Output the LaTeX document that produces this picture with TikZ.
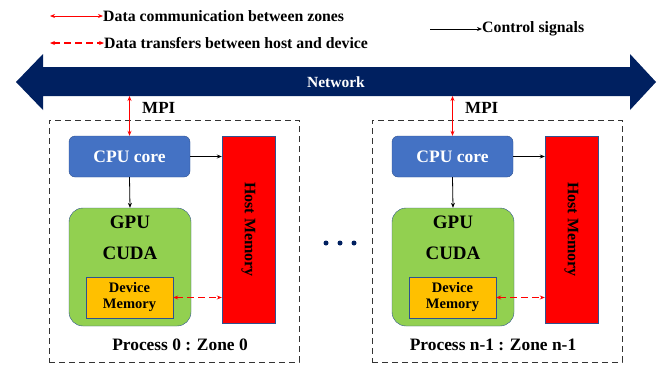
\documentclass[tikz,border=0pt]{standalone}
\usepackage{fontspec}
\setmainfont{Liberation Serif}
\usetikzlibrary{arrows.meta}
\definecolor{navy}{HTML}{002060}
\definecolor{cpublue}{HTML}{4472C4}
\definecolor{gpugreen}{HTML}{92D050}
\definecolor{devorange}{HTML}{FFC000}
\definecolor{edgeblue}{HTML}{2F528F}
\definecolor{hostred}{HTML}{FF0000}
\tikzset{
  fs/.style={font=\bfseries\fontsize{#1}{#1}\selectfont},
  zonebox/.style={draw=black!80, dash pattern=on 6pt off 4pt, line width=0.8pt, minimum width=250pt, minimum height=242pt, inner sep=0pt},
  cpubox/.style={draw=edgeblue, fill=cpublue, rounded corners=6pt, minimum width=121pt, minimum height=41pt, inner sep=0pt, text=white, fs=17.5},
  hostbox/.style={draw=edgeblue, fill=hostred, minimum width=53pt, minimum height=187pt, inner sep=0pt},
  gpubox/.style={draw=edgeblue, fill=gpugreen, rounded corners=14pt, minimum width=122pt, minimum height=118pt, inner sep=0pt},
  devbox/.style={draw=edgeblue, fill=devorange, minimum width=87pt, minimum height=41pt, inner sep=0pt, align=center, font=\bfseries\fontsize{14.5}{16}\selectfont},
  lbl/.style={inner sep=0pt, fs=#1},
  ctrl/.style={-{Stealth[length=5pt,width=4pt]}, line width=0.8pt, black},
  comm/.style={{Stealth[length=5pt,width=4pt]}-{Stealth[length=5pt,width=4pt]}, line width=1pt, hostred},
  xfer/.style={{Stealth[length=5pt,width=4pt]}-{Stealth[length=5pt,width=4pt]}, line width=1.2pt, draw=hostred, dash pattern=on 7pt off 4pt},
  dotn/.style={circle, fill=navy, inner sep=0pt, minimum size=5pt}
}
\begin{document}
\begin{tikzpicture}[x=1pt,y=-1pt]
\useasboundingbox (0,0) rectangle (664,365);
% legend
\coordinate (lg1) at (50,16);
\node[lbl=15.8, anchor=west] (lt1) at (103,16) {Data communication between zones};
\draw[comm] (lg1) -- (lt1.west);
\coordinate (lg2) at (50,43);
\node[lbl=15.8, anchor=west] (lt2) at (104,43) {Data transfers between host and device};
\draw[xfer] (lg2) -- (lt2.west);
\coordinate (lg3) at (430,29);
\node[lbl=15.8, anchor=west] (lt3) at (482,29) {Control signals};
\draw[ctrl] (lg3) -- (lt3.west);
% network
\fill[navy] (16,82) -- (43,54) -- (43,67) -- (630,67) -- (630,54) -- (656,82) -- (630,110) -- (630,96) -- (43,96) -- (43,110) -- cycle;
\node[lbl=15.5, text=white] (net) at (336,82) {Network};
% dots
\node[dotn] (d1) at (326,243) {};
\node[dotn] (d2) at (340,243) {};
\node[dotn] (d3) at (354,243) {};
% zones
\foreach \dx/\n/\px/\lab in {0/0/180/{Process 0 : Zone 0}, 323/1/170/{Process n-1 : Zone n-1}}{
\begin{scope}[xshift=\dx pt]
  \node[zonebox] (zone\n) at (174,241) {};
  \coordinate (net\n) at (129.5,96);
  \node[lbl=17, anchor=west] (mpi\n) at (142,108) {MPI};
  \node[cpubox] (cpu\n) at (129.5,156.5) {CPU core};
  \node[hostbox] (host\n) at (248.5,229.5) {};
  \node[lbl=16, rotate=-90] (hostt\n) at (248.5,229.5) {Host Memory};
  \node[gpubox] (gpu\n) at (130,267) {};
  \node[lbl=19] (gput\n) at (130,222) {GPU};
  \node[lbl=19] (cuda\n) at (130,253) {CUDA};
  \node[devbox] (dev\n) at (129.5,297.5) {Device\\Memory};
  \node[lbl=17.4] (proc\n) at (\px,345) {\lab};
  \draw[comm] (net\n) -- (cpu\n.north);
  \draw[ctrl] (cpu\n.east) -- (cpu\n.east -| host\n.west);
  \draw[ctrl] (cpu\n.south) -- (gpu\n.north);
  \draw[xfer] (dev\n.east) -- (dev\n.east -| host\n.west);
\end{scope}
}
\end{tikzpicture}
\end{document}
